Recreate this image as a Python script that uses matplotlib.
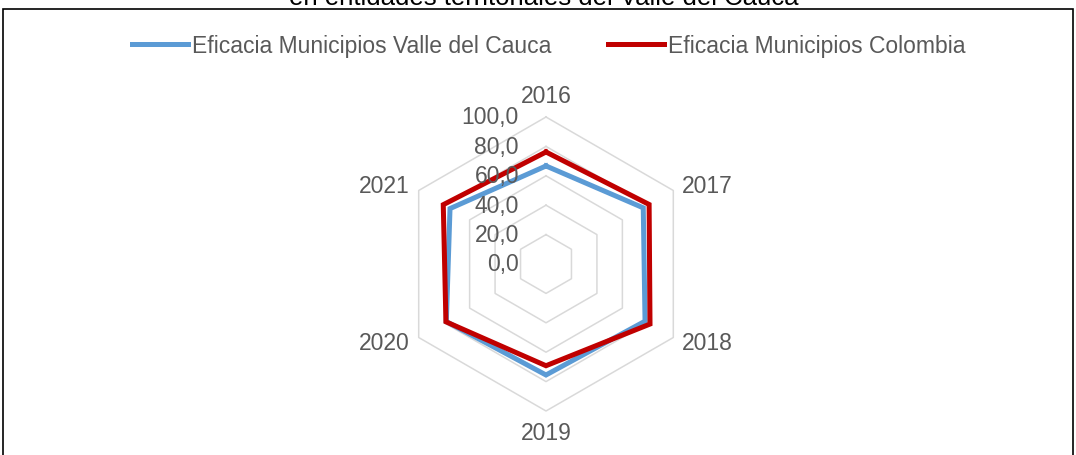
import numpy as np
import matplotlib.pyplot as plt
from matplotlib.patches import Rectangle

# Datos del gráfico radial
years = ["2016", "2017", "2018", "2019", "2020", "2021"]
valle = [66.7, 76.4, 77.8, 75.5, 78.3, 75.4]
colombia = [76.2, 81.0, 81.7, 69.2, 78.6, 80.7]
ring_values = [20, 40, 60, 80, 100]
tick_values = [0, 20, 40, 60, 80, 100]
tick_labels = ["0,0", "20,0", "40,0", "60,0", "80,0", "100,0"]

plt.rcParams['font.family'] = ['Liberation Sans', 'DejaVu Sans']
gray = "#595959"
fs = 16.5

fig = plt.figure(figsize=(10.76, 4.56), dpi=100)
ax = fig.add_axes([0, 0, 1, 1])
scale = 1.47  # px por unidad
ax.set_xlim(-546 / scale, 530 / scale)
ax.set_ylim(-191 / scale, 265 / scale)
ax.axis('off')

ang = np.pi / 2 - np.arange(len(years)) * 2 * np.pi / len(years)


def to_xy(vals):
    v = np.append(vals, vals[0])
    a = np.append(ang, ang[0])
    return v * np.cos(a), v * np.sin(a)


# Anillos hexagonales
for r in ring_values:
    x, y = to_xy(np.full(len(years), r))
    ax.plot(x, y, color="#d9d9d9", lw=1.1, zorder=1)

# Series
x, y = to_xy(np.array(valle))
ax.plot(x, y, color="#5b9bd5", lw=3.6, solid_joinstyle='miter',
        label="Eficacia Municipios Valle del Cauca", zorder=3)
x, y = to_xy(np.array(colombia))
ax.plot(x, y, color="#c00000", lw=3.6, solid_joinstyle='miter',
        label="Eficacia Municipios Colombia", zorder=4)

# Etiquetas de categorías
for yr, a in zip(years, ang):
    c, s = np.cos(a), np.sin(a)
    ha = 'left' if c > 0.1 else ('right' if c < -0.1 else 'center')
    va = 'bottom' if s > 0.9 else ('top' if s < -0.9 else 'center')
    ax.text(107 * c, 107 * s, yr, ha=ha, va=va, fontsize=fs, color=gray)

# Etiquetas del eje radial
for v, lab in zip(tick_values, tick_labels):
    ax.text(-18.4, v, lab, ha='right', va='center', fontsize=fs, color=gray, zorder=5)

ax.legend(loc='center', bbox_to_anchor=(0.51, 0.899), ncol=2, frameon=False,
          fontsize=fs, handlelength=2.45, handletextpad=0.17, columnspacing=2.5,
          labelcolor=gray)

fig.text(0.505, 1 - 5 / 456, "en entidades territoriales del Valle del Cauca",
         ha='center', va='baseline', fontsize=18.5, color='black')

fig.patches.append(Rectangle((3 / 1076, -0.05), 1070 / 1076, 1 - 10 / 456 + 0.05,
                             transform=fig.transFigure, fill=False,
                             edgecolor='black', lw=1.2))

fig.savefig("out.png", dpi=100)
